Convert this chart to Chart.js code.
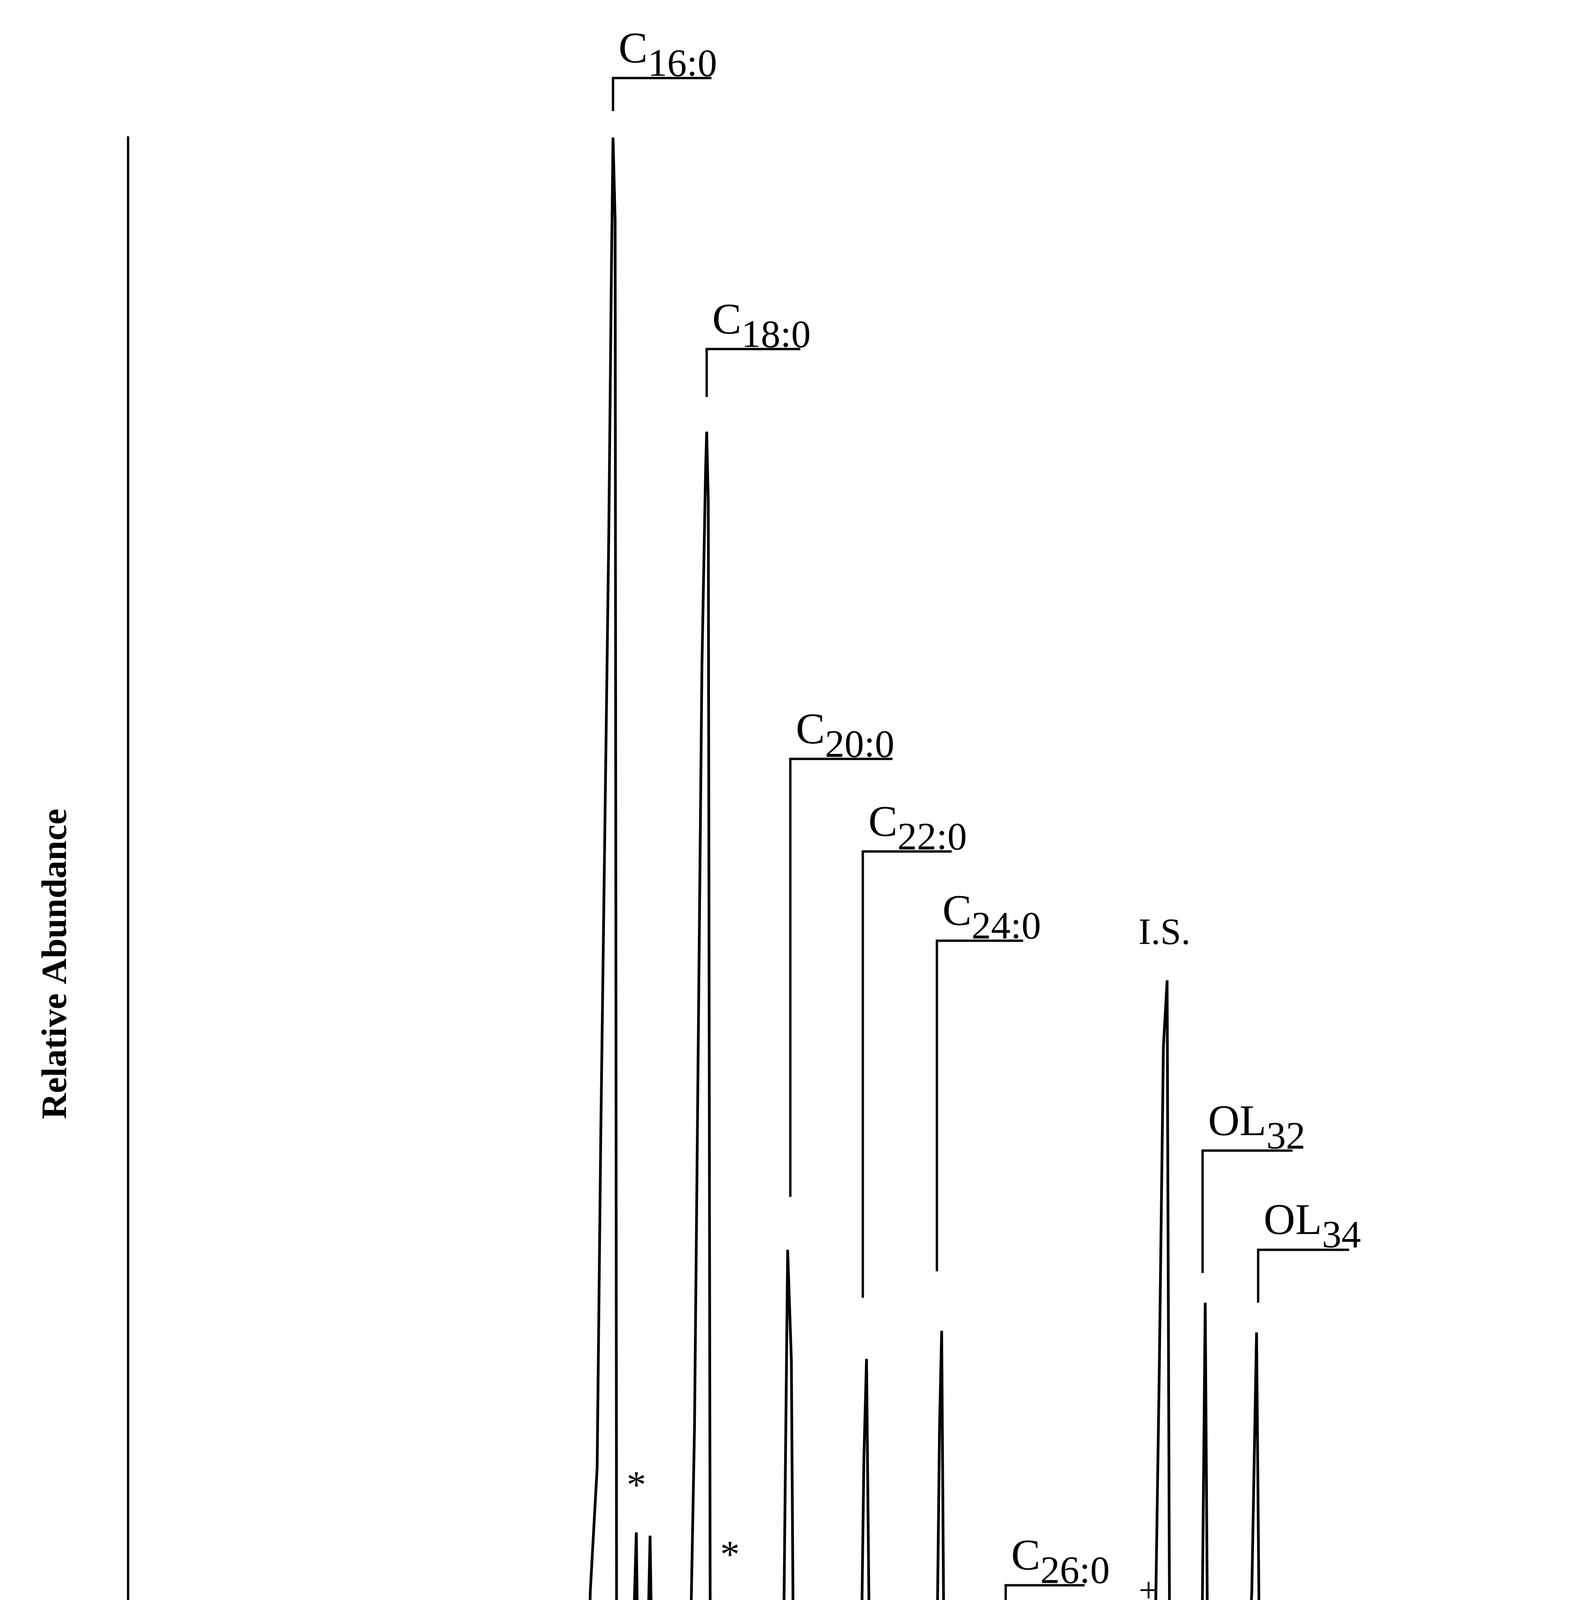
<!DOCTYPE html>
<html lang="en">
<head>
  <meta charset="utf-8" />
  <title>GC chromatogram</title>
  <script src="https://cdn.jsdelivr.net/npm/chart.js@4/dist/chart.umd.min.js"></script>
  <style>
    html, body { margin: 0; padding: 0; background: #fff; }
    canvas { display: block; }
  </style>
</head>
<body>
  <canvas id="chart" width="4028" height="4967"></canvas>
  <script>
    // retention time (min) and relative abundance
    const times = [2.42,3.0,4.0,4.45,4.52,4.58,4.65,4.72,4.85,5.5,6.5,7.6,7.67,7.74,8.5,9.15,9.26,9.35,9.9,10.2,10.33,10.42,10.8,11.02,11.1,11.15,11.28,11.35,11.5,11.55,11.58,11.62,11.65,11.8,11.95,11.98,12.02,12.07,12.2,12.28,12.33,12.45,12.56,12.6,12.75,12.88,12.95,13.02,13.05,13.12,13.26,13.33,13.35,13.38,13.42,13.55,13.7,13.79,13.85,14.0,14.12,14.23,14.3,14.5,14.7,14.8,14.88,14.95,15.0,15.2,15.4,15.44,15.5,15.8,16.1,16.25,16.32,16.37,16.42,16.5,16.8,16.98,17.05,17.1,17.5,17.68,17.75,17.79,17.84,17.95,18.05,18.1,18.44,18.5,18.85,19.0,19.03,19.08,19.22,19.28,19.33,19.6,19.67,19.72,20.05,20.16,20.22,20.3,20.38,20.47,20.53,20.8,20.88,20.95,21.3,21.42,21.5,21.6,21.66,21.8,21.9,21.98,22.05,22.1,22.2,22.35,22.5,22.58,22.63,22.7,22.77,22.82,22.9,23.1,23.2,23.25,23.5,23.65,23.74,23.8,23.9,24.3,24.56,24.65,25.0,25.5,26.5,27.5,29.07];
    const abundance = [0.4,0.3,0.2,0.4,6.5,8.1,6.8,0.8,0.4,0.2,0.1,0.3,0.8,0.3,0.3,0.6,2.6,0.9,1.0,1.4,4.3,1.8,2.5,4.0,4.5,12,19.5,40,76,92,100,95,3.0,2.5,3.0,11,15.6,3.0,3.2,15.4,5,3.5,5.6,3.8,4.0,8.5,6.5,10,10,22,68,80,82.2,78,3.5,3.2,4,11.4,3.5,4.0,2.5,7.9,3.0,2.0,3.2,8,32.7,26,2.5,1.0,1.8,4.5,1.5,0.8,1.8,3,20,26.1,10,1.0,0.8,1.0,5.6,0.8,0.7,2.5,22,27.8,5,0.8,5.0,0.9,3.4,0.7,1.5,7.0,9.4,1.5,1.0,5.6,0.8,0.8,2.3,0.6,1.0,4.1,1.5,6.0,1.5,6.4,1.0,0.8,2.9,0.7,1.2,5.0,1.0,8.0,1.2,4.0,25,45,49,6.5,2.0,1.5,3.5,5.0,1.3,6,29.5,6,1.0,1.4,4.3,0.8,1.5,12,27.7,6,1.0,1.2,1.6,0.8,0.7,0.5,0.3,0.2,0.2];
    const xTicks = [10, 20];

    // peak labels: [main, subscript, bracket left (min), bracket right (min), bracket level, leader bottom]
    const peakLabels = [
      ["C", "16:0", 11.58, 13.44, 103.6, 101.6],
      ["C", "18:0", 13.35, 15.12, 87.2, 84.3],
      ["C", "20:0", 14.93, 16.86, 62.4, 35.9],
      ["C", "22:0", 16.30, 17.98, 56.8, 29.8],
      ["C", "24:0", 17.70, 19.33, 51.4, 31.4],
      ["C", "26:0", 19.00, 20.49, 12.4, 10.5],
      ["OL", "32", 22.72, 24.42, 38.7, 31.3],
      ["OL", "34", 23.77, 25.49, 32.7, 29.5]
    ];
    const markSymbols = ["*", "*", "*", "^", "^", "^", "^", "^", "^", "^", "^", "^", "+", "+", "+", "+", "+"];
    const markTimes = [12.02, 13.79, 15.42, 13.60, 14.54, 15.42, 16.14, 16.86, 17.56, 18.84, 20.05, 20.88, 15.21, 18.16, 19.40, 20.21, 21.70];
    const markLevels = [17.7, 13.5, 4.1, 6.9, 5.6, 6.4, 3.9, 3.9, 4.1, 5.1, 5.2, 3.8, 4.3, 6.8, 7.0, 7.7, 11.4];

    const serif = "'Liberation Serif', 'DejaVu Serif', serif";

    const annotate = {
      id: 'annotate',
      afterDatasetsDraw(chart) {
        const ctx = chart.ctx, xs = chart.scales.x, ys = chart.scales.y;
        ctx.save();
        ctx.strokeStyle = '#000';
        ctx.fillStyle = '#000';
        ctx.lineWidth = 6;
        ctx.textBaseline = 'alphabetic';
        peakLabels.forEach(p => {
          const x0 = xs.getPixelForValue(p[2]), x1 = xs.getPixelForValue(p[3]);
          const yb = ys.getPixelForValue(p[4]), yl = ys.getPixelForValue(p[5]);
          ctx.beginPath();
          ctx.moveTo(x0, yl); ctx.lineTo(x0, yb); ctx.lineTo(x1, yb);
          ctx.stroke();
          ctx.font = '112px ' + serif;
          ctx.textAlign = 'left';
          const tx = x0 + 14;
          ctx.fillText(p[0], tx, yb - 40);
          const w = ctx.measureText(p[0]).width;
          ctx.font = '100px ' + serif;
          ctx.fillText(p[1], tx + w, yb - 6);
        });
        // internal standard
        ctx.font = '96px ' + serif;
        ctx.textAlign = 'center';
        ctx.fillText('I.S.', xs.getPixelForValue(22.0), ys.getPixelForValue(51.2));
        // small symbols
        markSymbols.forEach((s, i) => {
          ctx.font = (s === '*' ? '100px ' : '90px ') + serif;
          ctx.fillText(s, xs.getPixelForValue(markTimes[i]), ys.getPixelForValue(markLevels[i]));
        });
        ctx.restore();
      }
    };

    new Chart(document.getElementById('chart'), {
      type: 'line',
      data: {
        datasets: [{
          data: times.map((t, i) => ({ x: t, y: abundance[i] })),
          borderColor: '#000',
          borderWidth: 7,
          pointRadius: 0,
          tension: 0,
          fill: false
        }]
      },
      options: {
        responsive: false,
        animation: false,
        devicePixelRatio: 1,
        layout: { padding: { left: 90, right: 88, top: 352, bottom: 10 } },
        plugins: { legend: { display: false }, tooltip: { enabled: false } },
        scales: {
          x: {
            type: 'linear',
            min: 2.42,
            max: 29.07,
            afterBuildTicks: axis => { axis.ticks = xTicks.map(v => ({ value: v })); },
            grid: { drawOnChartArea: false, tickLength: 32, color: '#000', lineWidth: 5 },
            border: { color: '#000', width: 6 },
            ticks: { color: '#000', font: { family: serif, size: 76 }, padding: 40 },
            title: { display: true, text: 'Time (min)', color: '#000', font: { family: serif, size: 84, weight: 'bold' }, padding: { top: 70, bottom: 0 } }
          },
          y: {
            min: 0,
            max: 100,
            grid: { display: false },
            border: { color: '#000', width: 6 },
            ticks: { display: false },
            title: { display: true, text: 'Relative Abundance', color: '#000', font: { family: serif, size: 92, weight: 'bold' }, padding: { top: 0, bottom: 120 } }
          }
        }
      },
      plugins: [annotate]
    });
  </script>
</body>
</html>
